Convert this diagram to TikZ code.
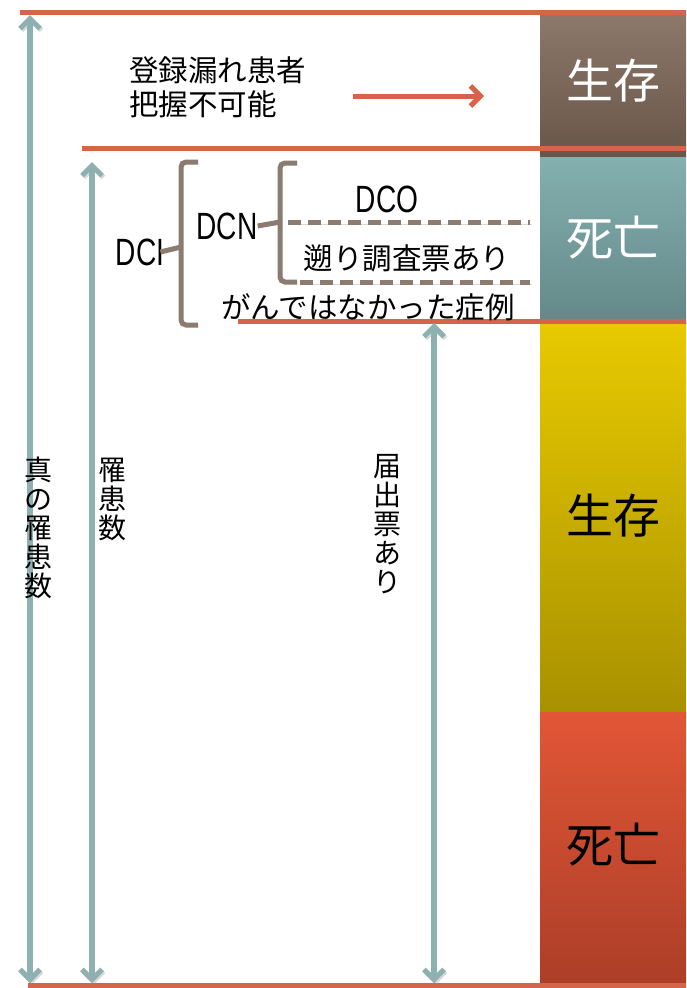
\documentclass[tikz,border=0pt]{standalone}
\usepackage{fontspec}
\setmainfont{Noto Sans CJK JP}
\newfontfamily\lat[FakeStretch=0.74]{Liberation Sans}
\usetikzlibrary{arrows.meta}
\definecolor{ored}{HTML}{D4654A}
\definecolor{tealg}{HTML}{8DB0B1}
\definecolor{brk}{HTML}{8C7B70}
\tikzset{
  shad/.style={preaction={draw=black,opacity=.15,transform canvas={shift={(1.5pt,-1.8pt)}}}},
  oline/.style={draw=ored,line width=5pt,shad},
  tarrow/.style={draw=tealg,line width=6pt,shad,{Straight Barb[length=10pt,width=20pt,line width=5pt]}-{Straight Barb[length=10pt,width=20pt,line width=5pt]}},
  oarrow/.style={draw=ored,line width=5pt,shad,-{Straight Barb[length=10pt,width=20pt,line width=5pt]}},
  brace/.style={draw=brk,line width=5pt,rounded corners=5pt,shad},
  dline/.style={draw=brk,line width=5pt,dash pattern=on 13pt off 7pt,shad},
  jp/.style={font=\fontsize{29.5}{30}\selectfont,inner sep=0pt},
  lt/.style={font=\lat\fontsize{38}{40}\selectfont,inner sep=0pt},
  big/.style={font=\fontsize{47}{49}\selectfont,inner sep=0pt},
  vtext/.style={font=\fontsize{28}{29}\selectfont,inner sep=0pt,align=center},
}
\begin{document}
\begin{tikzpicture}[x=1pt,y=-1pt]
\useasboundingbox (0,0) rectangle (686,988);
\fill[white] (0,0) rectangle (686,988);
% right column
\shade[top color={rgb,255:red,141;green,120;blue,106},bottom color={rgb,255:red,104;green,86;blue,74}] (540,14) rectangle (686,157);
\shade[top color={rgb,255:red,132;green,176;blue,176},bottom color={rgb,255:red,100;green,136;blue,136}] (540,157) rectangle (686,322);
\shade[top color={rgb,255:red,232;green,202;blue,0},bottom color={rgb,255:red,168;green,145;blue,0}] (540,322) rectangle (686,712);
\shade[top color={rgb,255:red,226;green,86;blue,54},bottom color={rgb,255:red,172;green,62;blue,40}] (540,712) rectangle (686,985);
\node[big,text=white] (s1) at (613,81) {生存};
\node[big,text=white] (d1) at (613,238) {死亡};
\node[big] (s2) at (613,516) {生存};
\node[big] (d2) at (613,845) {死亡};
% horizontal lines
\coordinate (l1a) at (20,12);  \coordinate (l1b) at (686,12);
\coordinate (l2a) at (82,148); \coordinate (l2b) at (686,148);
\coordinate (l3a) at (238,321);\coordinate (l3b) at (686,321);
\coordinate (l4a) at (28,985); \coordinate (l4b) at (686,985);
\draw[oline] (l1a) -- (l1b);
\draw[oline] (l2a) -- (l2b);
\draw[oline] (l3a) -- (l3b);
% top text and arrow
\node[jp,align=left,anchor=west] (miss) at (129,87) {登録漏れ患者\\[4pt]把握不可能};
\coordinate (oa) at (353,96); \coordinate (ob) at (484,96);
\draw[oarrow] (oa) -- (ob);
% vertical arrows
\coordinate (a1t) at (30,15);  \coordinate (a1b) at (30,983);
\coordinate (a2t) at (92,162); \coordinate (a2b) at (92,983);
\coordinate (a3t) at (434,323);\coordinate (a3b) at (434,983);
\draw[tarrow] (a1t) -- (a1b);
\draw[tarrow] (a2t) -- (a2b);
\draw[tarrow] (a3t) -- (a3b);
\draw[oline] (l4a) -- (l4b);
\node[vtext] (v1) at (38,528) {真\\の\\罹\\患\\数};
\node[vtext] (v2) at (112,499) {罹\\患\\数};
\node[vtext] (v3) at (387,524) {届\\出\\票\\あ\\り};
% braces and labels
\node[lt] (dci) at (140,252) {DCI};
\node[lt] (dcn) at (227,226) {DCN};
\node[lt] (dco) at (387,199) {DCO};
\node[jp] (sak) at (407,258) {遡り調査票あり};
\node[jp] (gan) at (368,307) {がんではなかった症例};
\draw[brace] (198,162) -- (181,162) -- (181,325) -- (198,325);
\coordinate (b1m) at (181,247);
\draw[brace] (b1m) -- ([xshift=-4pt]dci.east);
\draw[brace] (297,163) -- (280,163) -- (280,282) -- (297,282);
\coordinate (b2m) at (280,222);
\draw[brace] (b2m) -- (dcn.east);
\coordinate (d1a) at (288,222); \coordinate (d1b) at (530,222);
\coordinate (d2a) at (300,282); \coordinate (d2b) at (530,282);
\draw[dline] (d1a) -- (d1b);
\draw[dline] (d2a) -- (d2b);
\end{tikzpicture}
\end{document}
